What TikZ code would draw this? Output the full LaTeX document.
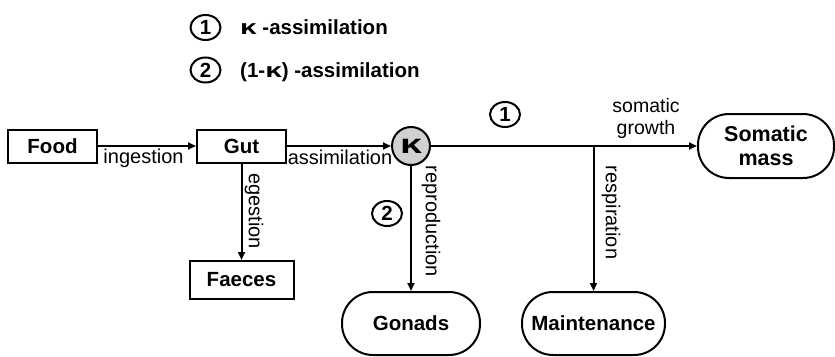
\documentclass[tikz,border=0pt]{standalone}
\usepackage{fontspec}
\setmainfont{Liberation Sans}
\usetikzlibrary{arrows.meta,shapes.geometric}
\newcommand{\wkappa}{\scalebox{1.45}[1]{κ}}
\tikzset{
  lblfont/.style={font=\fontsize{20}{22}\selectfont},
  boldfont/.style={font=\bfseries\fontsize{20.5}{22}\selectfont},
  sqbox/.style={draw, line width=2pt, inner sep=0pt, boldfont},
  pill/.style={draw, line width=2pt, inner sep=0pt, rounded corners=31pt, boldfont, align=center},
  flow/.style={line width=2pt, -{Triangle[length=8pt,width=7pt]}},
  numc/.style={draw, ellipse, line width=2pt, inner sep=0pt, minimum width=30pt, minimum height=25pt, boldfont},
  kcirc/.style={draw, circle, line width=2pt, inner sep=0pt, minimum size=38pt, fill=black!18, font=\bfseries\fontsize{27}{28}\selectfont},
  lbl/.style={inner sep=0pt, lblfont},
  legtext/.style={inner sep=0pt, anchor=west, boldfont},
}
\begin{document}
\begin{tikzpicture}[x=1pt,y=-1pt]
\useasboundingbox (0,0) rectangle (835,356);
% legend
\node[numc] (l1) at (205.5,27.5) {1};
\node[numc] (l2) at (205.5,70) {2};
\node[legtext] (t1) at (240,27.5) {\wkappa\ -assimilation};
\node[legtext] (t2) at (240,72) {(1-\wkappa) -assimilation};
% nodes
\node[sqbox, minimum width=89pt, minimum height=33pt] (food) at (52.5,146) {Food};
\node[sqbox, minimum width=89pt, minimum height=33pt] (gut) at (241.5,146) {Gut};
\node[kcirc] (k) at (411,146) {\wkappa};
\node[pill, minimum width=136pt, minimum height=64pt, font=\bfseries\fontsize{21.5}{24}\selectfont] (soma) at (766,146) {Somatic\\mass};
\node[pill, minimum width=138pt, minimum height=63pt] (gonads) at (411,323.5) {Gonads};
\node[pill, minimum width=143pt, minimum height=63pt] (maint) at (593.5,323.5) {Maintenance};
\node[sqbox, minimum width=104pt, minimum height=38pt] (faeces) at (241.5,280) {Faeces};
\coordinate (br) at (593.5,146);
% connectors
\draw[flow] (food) -- (gut);
\draw[flow] (gut) -- (k);
\draw[flow] (gut) -- (faeces);
\draw[flow] (k) -- (soma);
\draw[flow] (k) -- (gonads);
\draw[flow] (br) -- (maint);
% labels
\node[lbl] (lingest) at (143.5,158) {ingestion};
\node[lbl] (lassim) at (340,157) {assimilation};
\node[lbl, anchor=base, font=\fontsize{19.5}{20}\selectfont] (lsom1) at (646,112) {somatic};
\node[lbl, anchor=base, font=\fontsize{19.5}{20}\selectfont] (lsom2) at (646,134) {growth};
\node[lbl, rotate=-90] (legest) at (254,211) {egestion};
\node[lbl, rotate=-90] (lrepro) at (431,221.5) {reproduction};
\node[lbl, rotate=-90] (lresp) at (611,212.5) {respiration};
\node[numc] (n1) at (505,114.5) {1};
\node[numc] (n2) at (387,213.5) {2};
\end{tikzpicture}
\end{document}
